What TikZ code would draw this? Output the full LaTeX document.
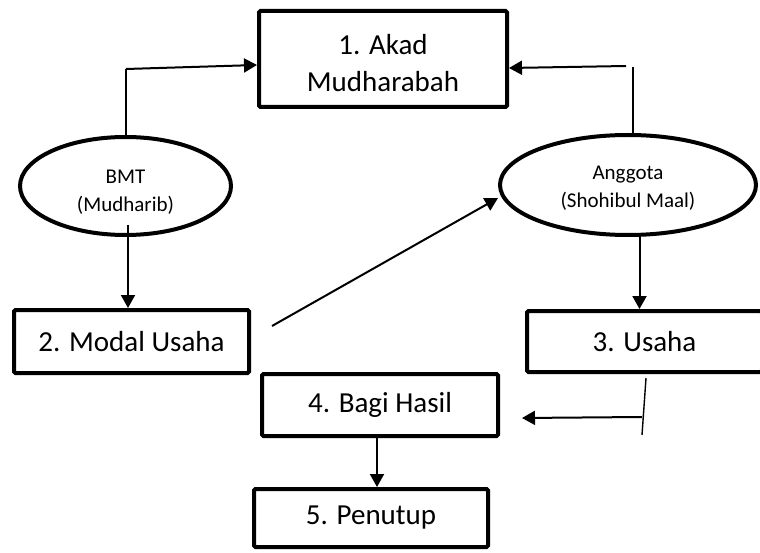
\documentclass[tikz,border=0pt]{standalone}
\usepackage{fontspec}
\setmainfont{Carlito}
\usetikzlibrary{arrows.meta,shapes.geometric}
\newcommand{\twolines}[3]{\raisebox{#1}[0pt][0pt]{\begin{tabular}{@{}c@{}}#2\\#3\end{tabular}}}
\begin{document}
\begin{tikzpicture}[x=1pt,y=-1pt,
  boxnode/.style={draw,line width=4pt,rounded corners=1.5pt,inner sep=0pt,align=center,
    font=\fontsize{29}{37}\selectfont},
  ellnode/.style={draw,ellipse,line width=4pt,inner sep=0pt,align=center,
    font=\fontsize{21}{28.5}\selectfont},
  arr/.style={line width=2pt,-{Triangle[length=13pt,width=14pt]}},
  thin/.style={line width=1.4pt}
]
\useasboundingbox (0,0) rectangle (760,553);

\node[boxnode,minimum width=248pt,minimum height=96pt] (akad) at (383,59) {\twolines{-13pt}{1. Akad}{Mudharabah}};
\node[ellnode,minimum width=211pt,minimum height=98pt] (bmt) at (125.5,186) {\twolines{-11pt}{BMT}{(Mudharib)}};
\node[ellnode,minimum width=256pt,minimum height=100pt] (ang) at (628,185) {\twolines{-8pt}{Anggota}{(Shohibul Maal)}};
\node[boxnode,minimum width=235pt,minimum height=63pt] (modal) at (131.5,341.5) {2. Modal Usaha};
\node[boxnode,minimum width=235pt,minimum height=61pt] (usaha) at (644.5,341.5) {3. Usaha};
\node[boxnode,minimum width=236pt,minimum height=62pt] (bagi) at (380,405) {4. Bagi Hasil};
\node[boxnode,minimum width=234pt,minimum height=58pt] (tutup) at (371,518) {5. Penutup};

% top left connector
\coordinate (cl) at (126,69);
\draw[thin] (bmt.north -| cl) -- (cl);
\draw[arr] (cl) -- ([yshift=-6pt]akad.west);

% top right connector
\coordinate (cr) at (633,67);
\coordinate (crh) at (626,66);
\draw[thin] (cr) -- (cr |- ang.north);
\draw[arr] (crh) -- ([yshift=-9pt]akad.east);

% BMT -> Modal
\coordinate (bm) at (128,225);
\draw[arr] (bm) -- (bm |- modal.north);

% Modal -> Anggota
\coordinate (dm) at (272,326);
\draw[arr] (dm) -- ([yshift=-13pt]ang.west);

% Anggota -> Usaha
\coordinate (au) at (639.5,237);
\draw[arr] (au) -- (au |- usaha.north);

% Usaha -> Bagi Hasil
\coordinate (ua) at (646,378);
\coordinate (ub) at (642,435);
\coordinate (uc) at (642,417);
\draw[thin] (ua) -- (ub);
\draw[arr] (uc) -- ([xshift=22pt,yshift=-13pt]bagi.east);

% Bagi Hasil -> Penutup
\coordinate (bp) at (377,438);
\draw[arr] (bp) -- (bp |- tutup.north);
\end{tikzpicture}
\end{document}
